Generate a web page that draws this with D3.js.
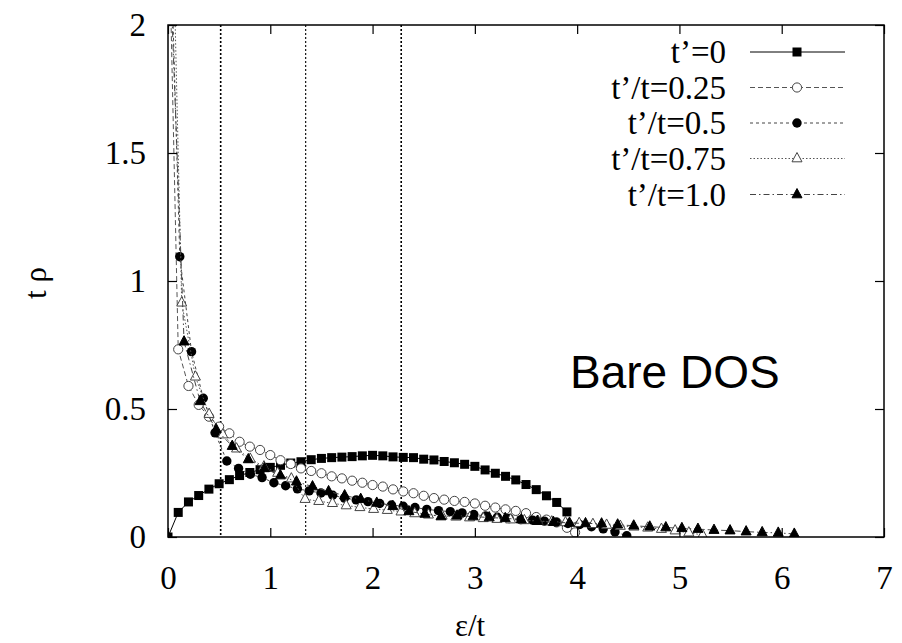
<!DOCTYPE html>
<html><head><meta charset="utf-8">
<script src="https://cdn.jsdelivr.net/npm/d3@7"></script>
<style>body{margin:0;background:#fff}svg{display:block}
</style>
</head><body>
<svg id="c" width="902" height="643"></svg>
<script>
// ---- data ----
const xTicks = [0,1,2,3,4,5,6,7];
const yTicks = [0,0.5,1,1.5,2];
const seriesNames = ["t\u2019=0","t\u2019/t=0.25","t\u2019/t=0.5","t\u2019/t=0.75","t\u2019/t=1.0"];
const vanHove = [0.515, 1.346, 2.28];
const textLabel = "Bare DOS";

const epsA = [0,0.1,0.2,0.3,0.4,0.5,0.6,0.7,0.8,0.9,1.0,1.1,1.2,1.3,1.4,1.5,1.6,1.7,1.8,1.9,2.0,2.1,2.2,2.3,2.4,2.5,2.6,2.7,2.8,2.9,3.0,3.1,3.2,3.3,3.4,3.5,3.6,3.7,3.8,3.9];
const rhoA = [0,0.096,0.137,0.162,0.187,0.208,0.224,0.24,0.252,0.263,0.272,0.28,0.289,0.294,0.302,0.307,0.31,0.312,0.314,0.317,0.319,0.317,0.313,0.311,0.31,0.304,0.301,0.295,0.29,0.284,0.276,0.262,0.249,0.237,0.223,0.205,0.185,0.161,0.135,0.098];

const epsB = [0,0.1,0.2,0.3,0.4,0.5,0.6,0.7,0.8,0.9,1.0,1.1,1.2,1.3,1.4,1.5,1.6,1.7,1.8,1.9,2.0,2.1,2.2,2.3,2.4,2.5,2.6,2.7,2.8,2.9,3.0,3.1,3.2,3.3,3.4,3.5,3.6,3.7,3.8,3.9,3.98];
const rhoB = [2.55,0.733,0.59,0.516,0.47,0.431,0.405,0.372,0.353,0.34,0.32,0.30,0.285,0.268,0.258,0.249,0.237,0.229,0.22,0.212,0.203,0.197,0.186,0.178,0.171,0.161,0.152,0.146,0.141,0.137,0.131,0.122,0.115,0.108,0.102,0.093,0.078,0.068,0.057,0.036,0.018];

const epsC = [0,0.115,0.23,0.345,0.46,0.575,0.69,0.805,0.92,1.035,1.15,1.265,1.38,1.495,1.61,1.725,1.84,1.955,2.07,2.185,2.3,2.415,2.53,2.645,2.76,2.875,2.99,3.105,3.22,3.335,3.45,3.565,3.68,3.795,3.91,4.025,4.14,4.255,4.37,4.485];
const rhoC = [2.7,1.095,0.724,0.542,0.407,0.297,0.268,0.245,0.232,0.212,0.2,0.188,0.18,0.172,0.163,0.152,0.145,0.138,0.131,0.125,0.12,0.115,0.108,0.103,0.099,0.094,0.088,0.082,0.077,0.072,0.068,0.066,0.062,0.058,0.053,0.049,0.04,0.032,0.02,0.005];

const epsD = [0,0.134,0.268,0.402,0.536,0.67,0.804,0.938,1.072,1.206,1.34,1.474,1.608,1.742,1.876,2.01,2.144,2.278,2.412,2.546,2.68,2.814,2.948,3.082,3.216,3.35,3.484,3.618,3.752,3.886,4.02,4.154,4.288,4.422,4.556,4.69,4.824,4.958,5.092,5.226];
const rhoD = [3.2,0.915,0.626,0.48,0.4,0.345,0.305,0.275,0.25,0.228,0.148,0.14,0.132,0.123,0.116,0.109,0.105,0.099,0.092,0.087,0.083,0.079,0.076,0.073,0.07,0.068,0.065,0.062,0.06,0.057,0.054,0.05,0.047,0.043,0.04,0.036,0.031,0.025,0.017,0.008];

const epsE = [0,0.157,0.314,0.471,0.628,0.785,0.942,1.099,1.256,1.413,1.57,1.727,1.884,2.041,2.198,2.355,2.512,2.669,2.826,2.983,3.14,3.297,3.454,3.611,3.768,3.925,4.082,4.239,4.396,4.553,4.71,4.867,5.024,5.181,5.338,5.495,5.652,5.809,5.966,6.123];
const rhoE = [2.45,0.763,0.53,0.42,0.355,0.303,0.268,0.24,0.216,0.197,0.178,0.162,0.148,0.133,0.12,0.1,0.09,0.08,0.083,0.08,0.076,0.073,0.068,0.062,0.058,0.055,0.053,0.052,0.048,0.044,0.04,0.037,0.034,0.031,0.027,0.025,0.021,0.018,0.016,0.012];

// ---- drawing ----
const SERIF = "Liberation Serif, Tinos, Times New Roman, Times, Nimbus Roman, Nimbus Roman No9 L, FreeSerif, Noto Serif, DejaVu Serif, serif";
const SANS = "Liberation Sans, Arimo, Arial, Helvetica, sans-serif";
const svg = d3.select("#c");
const L = 168, R = 884, T = 25, B = 537;
const x = d3.scaleLinear().domain([0,7]).range([L,R]);
const y = d3.scaleLinear().domain([0,2]).range([B,T]);

svg.append("defs").append("clipPath").attr("id","plot")
  .append("rect").attr("x",L).attr("y",T).attr("width",R-L).attr("height",B-T);

const styles = [
  {marker:"square", dash:null, stroke:"#000"},
  {marker:"ocircle", dash:"5,3", stroke:"#555"},
  {marker:"fcircle", dash:"3,3", stroke:"#444"},
  {marker:"otri", dash:"1.5,2", stroke:"#555"},
  {marker:"ftri", dash:"6,3,1.5,3", stroke:"#444"}
];
const series = [[epsA,rhoA],[epsB,rhoB],[epsC,rhoC],[epsD,rhoD],[epsE,rhoE]];

function drawMarker(g, kind, cx, cy){
  if(kind==="square"){
    g.append("rect").attr("x",cx-4.5).attr("y",cy-4.5).attr("width",9).attr("height",9).attr("fill","#000");
  } else if(kind==="ocircle"){
    g.append("circle").attr("cx",cx).attr("cy",cy).attr("r",4.6).attr("fill","#fff").attr("stroke","#444").attr("stroke-width",1);
  } else if(kind==="fcircle"){
    g.append("circle").attr("cx",cx).attr("cy",cy).attr("r",4.7).attr("fill","#000");
  } else {
    const s=10;
    const p=`M${cx},${cy-s*0.6}L${cx+s/2},${cy+s*0.33}L${cx-s/2},${cy+s*0.33}Z`;
    g.append("path").attr("d",p)
      .attr("fill", kind==="otri"?"#fff":"#000")
      .attr("stroke", kind==="otri"?"#444":"#000").attr("stroke-width",1);
  }
}

// vertical dotted lines
const vw=[1.6,1.1,1.6];
vanHove.forEach((v,i)=>{
  svg.append("line").attr("x1",x(v)).attr("x2",x(v)).attr("y1",T).attr("y2",B)
    .attr("stroke","#000").attr("stroke-width",vw[i]).attr("stroke-dasharray","2,2");
});

// series
const plotG = svg.append("g").attr("clip-path","url(#plot)");
series.forEach(([xs,ys],i)=>{
  const pts = xs.map((v,k)=>[v,ys[k]]);
  const line = d3.line().x(d=>x(d[0])).y(d=>y(d[1]));
  plotG.append("path").attr("d",line(pts)).attr("fill","none")
    .attr("stroke",styles[i].stroke).attr("stroke-width",1)
    .attr("stroke-dasharray",styles[i].dash);
  const mg = plotG.append("g");
  pts.forEach(d=>{ if(d[1]<=2) drawMarker(mg, styles[i].marker, x(d[0]), y(d[1])); });
});

// axes with inward ticks on all sides
function styleAxis(g){
  g.attr("font-family",SERIF).attr("font-size",33);
  g.select(".domain").remove();
  g.selectAll(".tick line").attr("stroke","#000").attr("stroke-width",1.2);
  g.selectAll("text").attr("font-family",SERIF).attr("font-size",33).attr("fill","#000");
}
svg.append("g").attr("transform",`translate(0,${B})`)
  .call(d3.axisBottom(x).tickValues(xTicks).tickFormat(d3.format("d")).tickSizeInner(-9).tickSizeOuter(0).tickPadding(29))
  .call(styleAxis);
svg.append("g").attr("transform",`translate(0,${T})`)
  .call(d3.axisTop(x).tickValues(xTicks).tickFormat("").tickSizeInner(-9).tickSizeOuter(0))
  .call(styleAxis);
svg.append("g").attr("transform",`translate(${L},0)`)
  .call(d3.axisLeft(y).tickValues(yTicks).tickFormat(d=>String(d)).tickSizeInner(-9).tickSizeOuter(0).tickPadding(22))
  .call(styleAxis);
svg.append("g").attr("transform",`translate(${R},0)`)
  .call(d3.axisRight(y).tickValues(yTicks).tickFormat("").tickSizeInner(-9).tickSizeOuter(0))
  .call(styleAxis);

// frame
svg.append("rect").attr("x",L).attr("y",T).attr("width",R-L).attr("height",B-T)
  .attr("fill","none").attr("stroke","#000").attr("stroke-width",1.5);

// legend
const rowY = [52,87.5,123,158.5,194.5];
seriesNames.forEach((n,i)=>{
  const cy=rowY[i];
  svg.append("text").attr("x",726).attr("y",cy+11).attr("text-anchor","end")
    .attr("font-family",SERIF).attr("font-size",33).text(n);
  svg.append("line").attr("x1",750).attr("x2",845).attr("y1",cy).attr("y2",cy)
    .attr("stroke",styles[i].stroke).attr("stroke-width",1).attr("stroke-dasharray",styles[i].dash);
  drawMarker(svg, styles[i].marker, 797, cy);
});

// axis titles
svg.append("text").attr("x",470).attr("y",636).attr("text-anchor","middle")
  .attr("font-family",SERIF).attr("font-size",31).text("\u03B5/t");
svg.append("text").attr("transform","translate(46,283) rotate(-90)").attr("text-anchor","middle")
  .attr("font-family",SERIF).attr("font-size",31).text("t \u03C1");

// annotation
svg.append("text").attr("x",570).attr("y",388)
  .attr("font-family",SANS).attr("font-size",46).text(textLabel);
</script>
</body></html>
